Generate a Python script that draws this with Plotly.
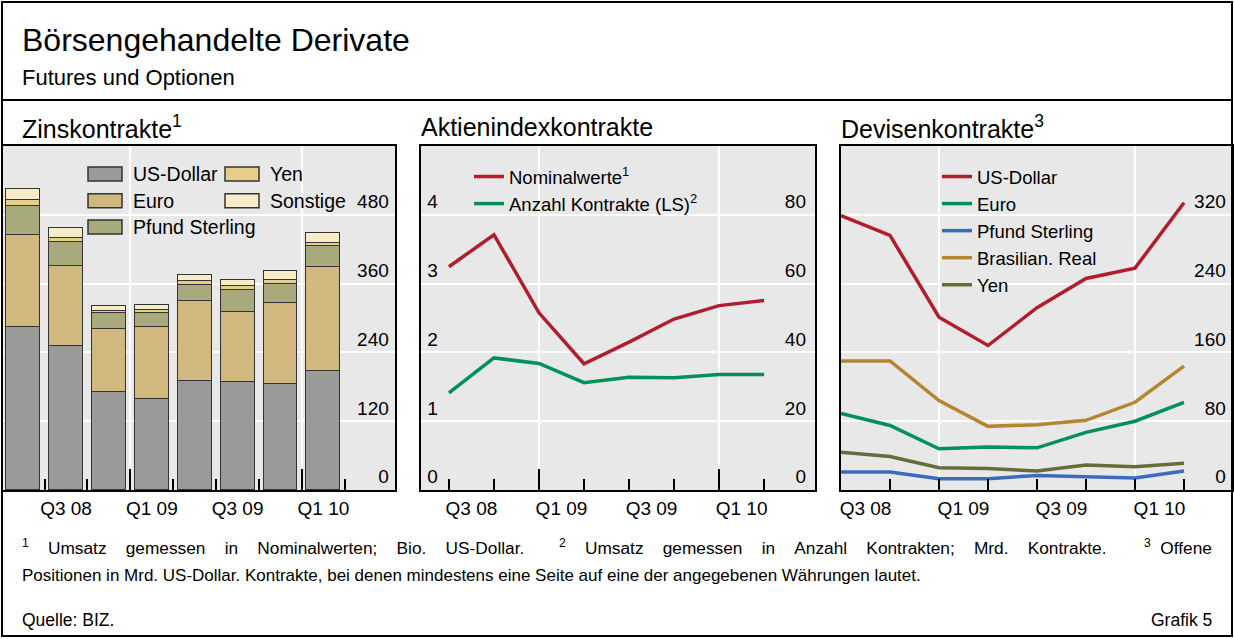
import plotly.graph_objects as go

W, H = 1234, 639

# quarters (end-of-quarter values)
quarters = ["Q2 08", "Q3 08", "Q4 08", "Q1 09", "Q2 09", "Q3 09", "Q4 09", "Q1 10"]
tick_labels = ["Q3 08", "Q1 09", "Q3 09", "Q1 10"]

# Zinskontrakte, Bio. US-Dollar (gestapelt)
zins_usd = [284, 252, 171, 159, 190, 189, 185, 207]
zins_eur = [161, 139, 110, 125, 139, 121, 142, 182]
zins_gbp = [51, 41, 27, 24, 29, 38, 33, 36]
zins_jpy = [10, 8, 5, 6, 7, 7, 7, 5]
zins_other = [19, 17, 8, 9, 10, 12, 15, 19]

# Aktienindexkontrakte
aktien_nominal = [64.9, 74.2, 51.5, 36.7, 43.0, 49.7, 53.6, 55.1]
aktien_anzahl = [1.41, 1.92, 1.84, 1.56, 1.64, 1.63, 1.68, 1.68]

# Devisenkontrakte, Mrd. US-Dollar
dev_usd = [319, 296, 201, 168, 212, 246, 258, 334]
dev_eur = [89, 75, 48, 50, 49, 67, 80, 102]
dev_gbp = [21, 21, 13, 13, 17, 16, 14, 22]
dev_brl = [150, 150, 104, 74, 76, 81, 102, 144]
dev_jpy = [44, 39, 26, 25, 22, 29, 27, 31]

FONT = "Liberation Sans, Arial, sans-serif"
BG = "#e8e8e8"
RED, GREEN, BLUE, BROWN, OLIVE = "#b01e2d", "#00915a", "#3a6cbe", "#b58630", "#656e3a"
BAR_COLORS = ["#9a9b98", "#d1b87f", "#a9aa7c", "#e6cd8c", "#f6ecc8"]
LEG_SIZE = 19.5


def fx(px):
    return px / W


def fy(py):
    return 1 - py / H


idx = list(range(len(quarters)))
ydom = [fy(490), fy(146)]

fig = go.Figure()

# --- Zinskontrakte (stacked bars)
bar_series = [
    ("US-Dollar", zins_usd),
    ("Euro", zins_eur),
    ("Pfund Sterling", zins_gbp),
    ("Yen", zins_jpy),
    ("Sonstige", zins_other),
]
for (name, vals), col in zip(bar_series, BAR_COLORS):
    fig.add_trace(
        go.Bar(
            x=idx, y=vals, name=name, width=0.79,
            marker=dict(color=col, line=dict(color="#333333", width=1.5)),
            xaxis="x", yaxis="y", showlegend=False, hoverinfo="skip",
        )
    )

# --- Aktienindexkontrakte
fig.add_trace(go.Scatter(
    x=idx, y=aktien_nominal, name="Nominalwerte<sup>1</sup>", mode="lines",
    line=dict(color=RED, width=3.5), xaxis="x2", yaxis="y3",
    legend="legend",
))
fig.add_trace(go.Scatter(
    x=idx, y=aktien_anzahl, name="Anzahl Kontrakte (LS)<sup>2</sup>", mode="lines",
    line=dict(color=GREEN, width=3.5), xaxis="x2", yaxis="y2",
    legend="legend",
))

# --- Devisenkontrakte
dev_series = [
    ("US-Dollar", dev_usd, RED),
    ("Euro", dev_eur, GREEN),
    ("Pfund Sterling", dev_gbp, BLUE),
    ("Brasilian. Real", dev_brl, BROWN),
    ("Yen", dev_jpy, OLIVE),
]
for name, vals, col in dev_series:
    fig.add_trace(go.Scatter(
        x=idx, y=vals, name=name, mode="lines",
        line=dict(color=col, width=3.5), xaxis="x3", yaxis="y4",
        legend="legend2",
    ))

# empty traces so the label axes exist
for xa, ya in [("x4", "y"), ("x5", "y2"), ("x6", "y4")]:
    fig.add_trace(go.Scatter(x=[], y=[], xaxis=xa, yaxis=ya, showlegend=False))

tickfont = dict(family=FONT, size=19, color="black")
frame = dict(showline=True, linecolor="black", linewidth=2, mirror=True)


def tick_axis(dom, rng, anchor, major, minor, majorlen):
    return dict(
        domain=dom, range=rng, anchor=anchor, tickmode="array",
        tickvals=major, showticklabels=False, ticks="inside", ticklen=majorlen,
        tickwidth=1.5, tickcolor="black", showgrid=True, gridcolor="white",
        gridwidth=1.5, zeroline=False, fixedrange=True,
        minor=dict(tickvals=minor, ticks="inside", ticklen=11, tickwidth=1.5,
                   tickcolor="black", showgrid=False),
        **frame,
    )


def label_axis(over, rng, anchor, vals):
    return dict(
        overlaying=over, range=rng, anchor=anchor, side="bottom",
        tickmode="array", tickvals=vals, ticktext=tick_labels, ticks="",
        showgrid=False, zeroline=False, showline=False, tickfont=tickfont,
        ticklabelstandoff=5,
    )


def val_axis(rng, vals, side, **kw):
    d = dict(
        range=rng, tickmode="array", tickvals=vals, side=side,
        ticklabelposition="inside top", ticks="", showgrid=True,
        gridcolor="white", gridwidth=1.5, zeroline=False, tickfont=tickfont,
        ticklabelstandoff=6, fixedrange=True,
    )
    d.update(kw)
    return d


r1 = [-0.47, 8.67]
r2 = [-0.62, 8.13]
r3 = [0, 7.98]
lab_pos1 = [1, 3, 5, 7]
lab_pos23 = [0.5, 2.5, 4.5, 6.5]

fig.update_layout(
    xaxis=tick_axis([fx(3), fx(395)], r1, "y", [2.5, 6.5],
                    [0.5, 1.5, 3.5, 4.5, 5.5, 7.5], 21),
    xaxis2=tick_axis([fx(421), fx(815)], r2, "y2", [2, 6],
                     [0, 1, 3, 4, 5, 7], 21),
    xaxis3=tick_axis([fx(841), fx(1232)], r3, "y4", [2, 6],
                     [1, 3, 4, 5, 7], 11),
    xaxis4=label_axis("x", r1, "y", lab_pos1),
    xaxis5=label_axis("x2", r2, "y2", lab_pos23),
    xaxis6=label_axis("x3", r3, "y4", lab_pos23),
    yaxis=val_axis([0, 600], [0, 120, 240, 360, 480], "right",
                   domain=ydom, anchor="x", **frame),
    yaxis2=val_axis([0, 5], [0, 1, 2, 3, 4], "left",
                    domain=ydom, anchor="x2", **frame),
    yaxis3=val_axis([0, 100], [0, 20, 40, 60, 80], "right",
                    overlaying="y2", anchor="x2", showgrid=False),
    yaxis4=val_axis([0, 400], [0, 80, 160, 240, 320], "right",
                    domain=ydom, anchor="x3", **frame),
)

legend_style = dict(
    xanchor="left", yanchor="top", bgcolor="rgba(0,0,0,0)",
    font=dict(family=FONT, size=18.5, color="black"),
    traceorder="normal", itemclick=False, itemdoubleclick=False,
)
fig.update_layout(
    legend=dict(x=fx(469), y=fy(158), **legend_style),
    legend2=dict(x=fx(937), y=fy(158), **legend_style),
)

# manual legend for the bar panel (wide swatches)
shapes = []
annos = []
leg_pos = [(88, 174), (88, 200.7), (88, 227), (225, 174), (225, 200.7)]
for k, (px, py) in enumerate(leg_pos):
    name = bar_series[k][0]
    shapes.append(dict(
        type="rect", xref="paper", yref="paper",
        x0=fx(px), x1=fx(px + 34), y0=fy(py + 7), y1=fy(py - 7),
        fillcolor=BAR_COLORS[k], line=dict(color="#333333", width=1.5),
    ))
    annos.append(dict(
        x=fx(px + 43), y=fy(py), xref="paper", yref="paper", text=name,
        showarrow=False, xanchor="left", yanchor="middle",
        font=dict(family=FONT, size=LEG_SIZE, color="black"),
    ))

# outer frame and separator
shapes.append(dict(type="rect", xref="paper", yref="paper",
                   x0=fx(2), x1=fx(1232), y0=fy(636), y1=fy(2),
                   line=dict(color="black", width=2)))
shapes.append(dict(type="line", xref="paper", yref="paper",
                   x0=fx(2), x1=fx(1232), y0=fy(100), y1=fy(100),
                   line=dict(color="black", width=2)))


def text(x, y, s, size, anchor="left"):
    annos.append(dict(
        x=fx(x), y=fy(y), xref="paper", yref="paper", text=s,
        showarrow=False, xanchor=anchor, yanchor="middle",
        font=dict(family=FONT, size=size, color="black"),
    ))


text(20, 40, "Börsengehandelte Derivate", 32)
text(20, 78, "Futures und Optionen", 22)
text(20, 127, "Zinskontrakte<sup>1</sup>", 25)
text(419, 127, "Aktienindexkontrakte", 25)
text(839, 127, "Devisenkontrakte<sup>3</sup>", 25)

sp = " \u00a0\u00a0\u00a0"
text(20, 547, sp.join("<sup>1</sup> Umsatz gemessen in Nominalwerten; Bio. US-Dollar.".split(" ")), 17.3)
text(557, 547, sp.join("<sup>2</sup> Umsatz gemessen in Anzahl Kontrakten; Mrd. Kontrakte.".split(" ")), 17.3)
text(1214, 547, "<sup>3</sup>\u00a0\u00a0Offene", 17.3, "right")
text(20, 575, "Positionen in Mrd. US-Dollar. Kontrakte, bei denen mindestens eine Seite auf eine der angegebenen Währungen lautet.", 17)
text(20, 620, "Quelle: BIZ.", 17.5)
text(1214, 620, "Grafik 5", 17.5, "right")

fig.update_layout(
    width=W, height=H, autosize=False,
    margin=dict(l=0, r=0, t=0, b=0),
    paper_bgcolor="white", plot_bgcolor=BG,
    barmode="stack", bargap=0,
    font=dict(family=FONT, color="black"),
    shapes=shapes, annotations=annos,
    hovermode=False,
)

fig.write_html(
    "out.html",
    config={"displayModeBar": False},
    post_script="document.body.style.margin='0';document.body.style.overflow='hidden';",
)
